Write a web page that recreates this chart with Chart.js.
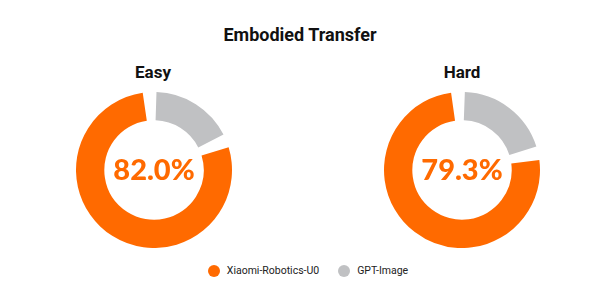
<!DOCTYPE html>
<html>
<head>
<meta charset="utf-8">
<script src="https://cdn.jsdelivr.net/npm/chart.js@4"></script>
<style>
  html, body { margin: 0; padding: 0; background: #fff; }
  body { width: 600px; height: 287px; position: relative; overflow: hidden; font-family: Roboto, "Noto Sans", sans-serif; }
  .title { position: absolute; left: 0; width: 600px; top: 24px; text-align: center; font-weight: 700; font-size: 18px; color: #111; }
  .sub { position: absolute; width: 160px; top: 62px; text-align: center; font-weight: 700; font-size: 17px; color: #111; }
  .donut { position: absolute; width: 156px; height: 156px; }
  .legend { position: absolute; left: 8px; width: 600px; top: 264px; display: flex; justify-content: center; gap: 19px; font-size: 10.5px; color: #222; }
  .legend span { display: flex; align-items: center; }
  .legend i { display: inline-block; width: 12px; height: 12px; border-radius: 50%; margin-right: 7px; }
</style>
</head>
<body>
<div class="title">Embodied Transfer</div>
<div class="sub" style="left:73px">Easy</div>
<div class="sub" style="left:382px">Hard</div>
<div class="donut" style="left:76px;top:92px"><canvas id="c-easy"></canvas></div>
<div class="donut" style="left:384px;top:92px"><canvas id="c-hard"></canvas></div>
<div class="legend" id="legend"></div>

<script>
const ORANGE = '#ff6a00';
const GREY   = '#c0c1c3';

const models   = ['Xiaomi-Robotics-U0', 'GPT-Image'];
const panels   = ['Easy', 'Hard'];
const easyVals = [82.0, 18.0];
const hardVals = [79.3, 20.7];

const centerText = {
  id: 'centerText',
  afterDraw(chart) {
    const { ctx, chartArea } = chart;
    const x = (chartArea.left + chartArea.right) / 2;
    const y = (chartArea.top + chartArea.bottom) / 2;
    ctx.save();
    ctx.font = '900 29px Lato, "Noto Sans", sans-serif';
    ctx.fillStyle = ORANGE;
    ctx.textAlign = 'center';
    ctx.textBaseline = 'middle';
    ctx.fillText(chart.data.datasets[0].data[0].toFixed(1) + '%', x, y + 1);
    ctx.restore();
  }
};

function makeDonut(id, vals) {
  new Chart(document.getElementById(id), {
    type: 'doughnut',
    data: {
      labels: models,
      datasets: [{
        data: vals,
        backgroundColor: [ORANGE, GREY],
        borderWidth: 0
      }]
    },
    options: {
      responsive: true, maintainAspectRatio: false,
      animation: false,
      cutout: '62%',
      spacing: 7,
      rotation: vals[1] / (vals[0] + vals[1]) * 360,
      plugins: { legend: { display: false }, tooltip: { enabled: false } }
    },
    plugins: [centerText]
  });
}

makeDonut('c-easy', easyVals);
makeDonut('c-hard', hardVals);

document.getElementById('legend').innerHTML = models.map((m, i) =>
  `<span><i style="background:${[ORANGE, GREY][i]}"></i>${m}</span>`).join('');
</script>
</body>
</html>
